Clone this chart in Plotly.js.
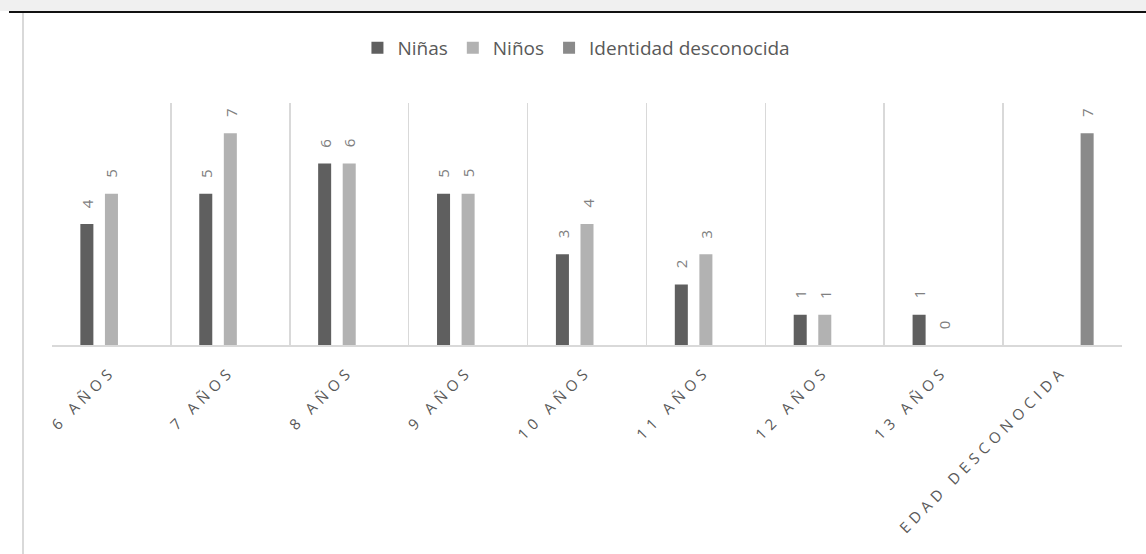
<!DOCTYPE html>
<html>
<head>
<meta charset="utf-8">
<script src="https://cdn.plot.ly/plotly-3.0.1.min.js"></script>
<style>
  html, body { margin: 0; padding: 0; background: #ffffff; }
  #wrap { position: relative; width: 1146px; height: 554px; overflow: hidden; }
  #band { position: absolute; left: 0; top: 0; width: 1146px; height: 11px; background: #f0f0f0; }
  #topline { position: absolute; left: 9px; top: 11px; width: 1137px; height: 2px; background: #111; }
  #leftline { position: absolute; left: 22px; top: 13px; width: 2px; height: 541px; background: #d9d9d9; }
  #chart { position: absolute; left: 0; top: 0; width: 1146px; height: 554px; }
  .xtick text { letter-spacing: 5px; }
</style>
</head>
<body>
<div id="wrap">
  <div id="band"></div>
  <div id="topline"></div>
  <div id="leftline"></div>
  <div id="chart"></div>
</div>
<script>
const categories = ["6 AÑOS", "7 AÑOS", "8 AÑOS", "9 AÑOS", "10 AÑOS", "11 AÑOS", "12 AÑOS", "13 AÑOS", "EDAD DESCONOCIDA"];
const ninas = [4, 5, 6, 5, 3, 2, 1, 1, null];
const ninos = [5, 7, 6, 5, 4, 3, 1, 0, null];
const desconocida = [null, null, null, null, null, null, null, null, 7];
const seriesNames = ["Niñas", "Niños", "Identidad desconocida"];
const seriesColors = ["#5f5f5f", "#b2b2b2", "#8a8a8a"];

const W = 1146, H = 554;
const margin = {l: 52, r: 24, t: 103, b: 209};
const bargap = 0.38, bargroupgap = 0.47;
const fontFam = "'Open Sans', 'DejaVu Sans', sans-serif";

const allSeries = [ninas, ninos, desconocida];
const traces = allSeries.map((vals, i) => ({
  type: 'bar',
  name: seriesNames[i],
  x: categories,
  y: vals,
  marker: {color: seriesColors[i]},
  hoverinfo: 'skip'
}));

// data labels (rotated), placed over each bar through the axes
const catPx = (W - margin.l - margin.r) / categories.length;
const slotPx = catPx * (1 - bargap) / allSeries.length;
const annotations = [];
allSeries.forEach((vals, i) => {
  vals.forEach((v, j) => {
    if (v === null) return;
    annotations.push({
      x: categories[j], y: v, xref: 'x', yref: 'y',
      text: String(v), showarrow: false, textangle: -90,
      xanchor: 'center', yanchor: 'bottom',
      xshift: (i - (allSeries.length - 1) / 2) * slotPx, yshift: 14,
      font: {family: fontFam, size: 15, color: '#808080'}
    });
  });
});

const layout = {
  width: W, height: H,
  margin: margin,
  paper_bgcolor: 'rgba(0,0,0,0)',
  plot_bgcolor: 'rgba(0,0,0,0)',
  barmode: 'group',
  bargap: bargap,
  bargroupgap: bargroupgap,
  showlegend: true,
  legend: {
    orientation: 'h', x: 0.503, xref: 'container', xanchor: 'center',
    y: 1 - 48 / 554, yref: 'container', yanchor: 'middle',
    font: {family: fontFam, size: 19, color: '#595959'},
    itemclick: false, itemdoubleclick: false
  },
  xaxis: {
    type: 'category',
    tickson: 'boundaries',
    showgrid: true, gridcolor: '#d9d9d9', gridwidth: 1.5,
    showline: true, linecolor: '#d9d9d9', linewidth: 1.5,
    ticks: '', tickangle: -45,
    ticklabelstandoff: 10,
    tickfont: {family: fontFam, size: 15, color: '#595959'},
    zeroline: false, fixedrange: true
  },
  yaxis: {
    range: [0, 8], showgrid: false, showticklabels: false, zeroline: false,
    showline: false, ticks: '', fixedrange: true
  },
  annotations: annotations
};

Plotly.newPlot('chart', traces, layout, {displayModeBar: false, staticPlot: true});
</script>
</body>
</html>
